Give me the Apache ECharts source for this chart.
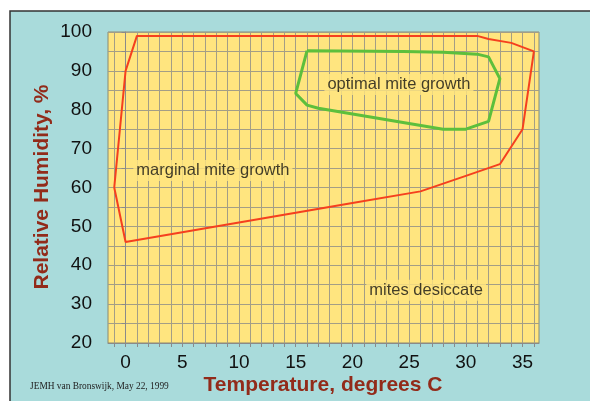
<!DOCTYPE html>
<html><head><meta charset="utf-8">
<script src="https://cdn.jsdelivr.net/npm/echarts@6/dist/echarts.min.js"></script>
<style>html,body{margin:0;padding:0;background:#fff}#c{width:590px;height:401px}</style>
</head><body><div id="c"></div>
<script>
// ---- data ----
const xLabelValues = [0, 5, 10, 15, 20, 25, 30, 35];
const xGridValues = [-1,0,1,2,3,4,5,6,7,8,9,10,11,12,13,14,15,16,17,18,19,20,21,22,23,24,25,26,27,28,29,30,31,32,33,34,35,36];
const yLabelValues = [20, 30, 40, 50, 60, 70, 80, 90, 100];
const redTemp = [-1, 0, 1, 31, 32, 34, 36, 35, 33, 30, 26, 20, 15, 10, 5, 0, -1];
const redRH   = [60, 90, 99, 99, 98.2, 97.2, 95, 75, 66, 63, 59, 56, 53.5, 51, 48.5, 46, 60];
const greenTemp = [16, 24.5, 28, 31, 32, 33, 32, 30, 28, 17, 16, 15, 16];
const greenRH   = [95.2, 95, 94.8, 94.3, 93.6, 88, 77, 75, 75, 80.4, 81.2, 84.2, 95.2];
const regionText = ['optimal mite growth', 'marginal mite growth', 'mites desiccate'];
const regionTemp = [24.1, 7.7, 26.5];
const regionRH   = [86.5, 64.4, 33.6];

const YELLOW = '#FFE57F';
const TEAL = '#A9DBDB';
const TITLE = '#922B1A';
const GRID = '#a39e86';

const chart = echarts.init(document.getElementById('c'), null, {renderer: 'canvas'});
const pairs = (a, b) => a.map((v, i) => [v, b[i]]);

chart.setOption({
  backgroundColor: '#ffffff',
  animation: false,
  graphic: [
    {type: 'rect', z: -10, silent: true, shape: {x: 10, y: 11, width: 600, height: 420},
     style: {fill: TEAL, stroke: '#333', lineWidth: 1.5}},
    {type: 'text', silent: true, x: 42, y: 187, rotation: Math.PI / 2,
     style: {text: 'Relative Humidity, %', fill: TITLE, font: 'bold 21px "Liberation Sans", Arial, sans-serif',
             align: 'center', verticalAlign: 'middle'}},
    {type: 'text', silent: true, x: 323, y: 385,
     style: {text: 'Temperature, degrees C', fill: TITLE, font: 'bold 21px "Liberation Sans", Arial, sans-serif',
             align: 'center', verticalAlign: 'middle'}},
    {type: 'text', silent: true, x: 30, y: 387,
     style: {text: 'JEMH van Bronswijk, May 22, 1999', fill: '#222', font: '9.4px "Liberation Serif", "Times New Roman", serif',
             align: 'left', verticalAlign: 'middle'}}
  ],
  grid: {left: 108, top: 32, right: 51, bottom: 58, show: true, backgroundColor: YELLOW,
         borderColor: '#8a8a70', borderWidth: 1, containLabel: false},
  xAxis: {
    type: 'value', min: -1.55, max: 36.45,
    axisLine: {show: true, lineStyle: {color: '#8a8a8a'}},
    axisTick: {show: true, customValues: xGridValues, length: 4, lineStyle: {color: '#8a8a8a'}},
    axisLabel: {show: true, customValues: xLabelValues, margin: 10, color: '#111',
                fontSize: 19, fontFamily: '"Liberation Sans", Arial, sans-serif'},
    splitLine: {show: true, lineStyle: {color: GRID, width: 1}}
  },
  yAxis: {
    type: 'value', min: 20, max: 100, interval: 5,
    axisLine: {show: true, lineStyle: {color: '#8a8a8a'}},
    axisTick: {show: true, length: 4, lineStyle: {color: '#8a8a8a'}},
    axisLabel: {show: true, margin: 16, color: '#111', fontSize: 19,
                fontFamily: '"Liberation Sans", Arial, sans-serif',
                formatter: v => (yLabelValues.indexOf(v) >= 0 ? String(v) : '')},
    splitLine: {show: true, lineStyle: {color: GRID, width: 1}}
  },
  series: [
    {type: 'line', data: pairs(redTemp, redRH), symbol: 'none', z: 3,
     lineStyle: {color: '#F5401E', width: 2}},
    {type: 'line', data: pairs(greenTemp, greenRH), symbol: 'none', z: 3,
     lineStyle: {color: '#5DBF3C', width: 3}},
    {type: 'scatter', symbolSize: 0, z: 5,
     data: regionText.map((t, i) => ({value: [regionTemp[i], regionRH[i]], name: t})),
     label: {show: true, position: 'inside', formatter: p => p.name, color: '#111',
             fontSize: 16.5, fontFamily: '"Liberation Sans", Arial, sans-serif',
             backgroundColor: YELLOW, padding: [2, 3]}}
  ]
});
</script></body></html>
